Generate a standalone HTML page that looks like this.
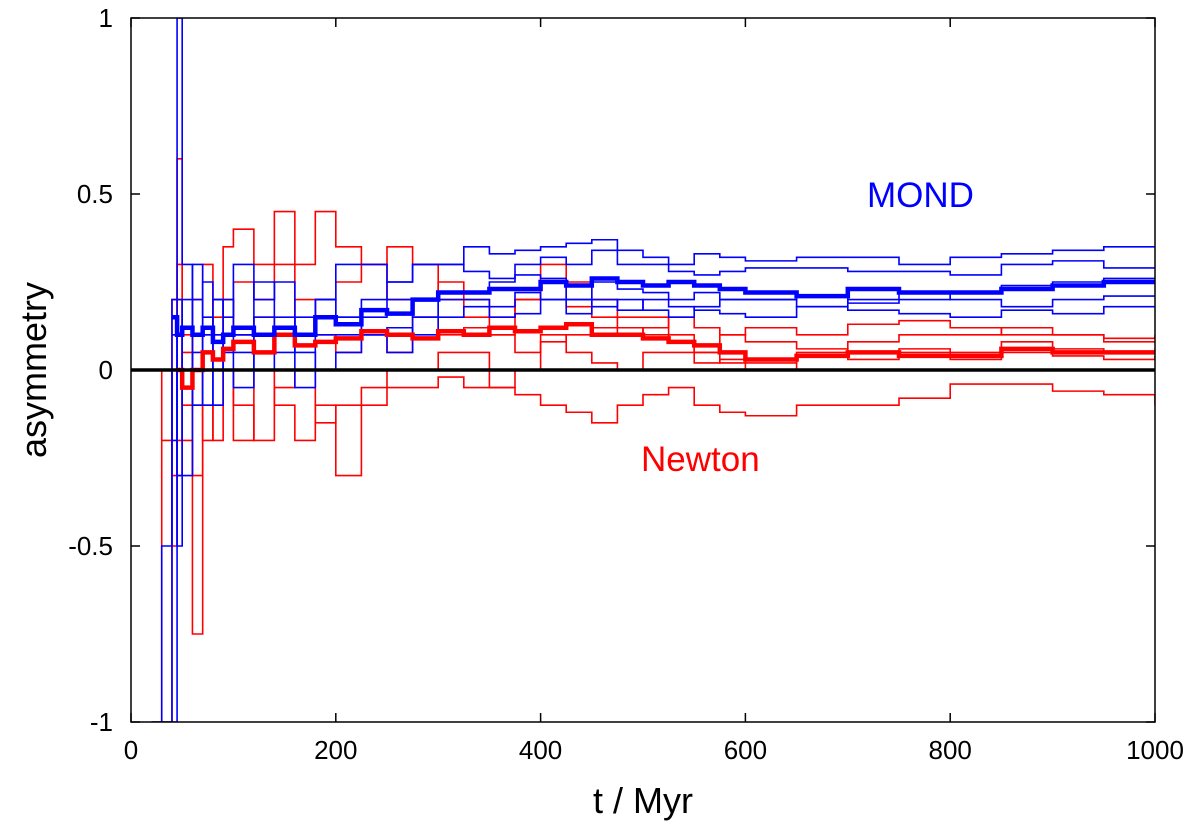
<!DOCTYPE html>
<html><head><meta charset="utf-8"><style>
html,body{margin:0;padding:0;background:#fff;}
svg{display:block;font-family:"Liberation Sans",Arial,sans-serif;}
</style></head><body>
<svg id="chart" width="1200" height="833">
<defs><clipPath id="plotclip"><rect x="131" y="18" width="1024" height="704"/></clipPath></defs>
<g id="series" clip-path="url(#plotclip)"></g>
<g id="axes"></g>
<text x="867" y="207" font-size="35" fill="#0000ff">MOND</text>
<text x="641" y="471" font-size="35" fill="#ff0000">Newton</text>
<text x="643" y="813" font-size="36" text-anchor="middle">t / Myr</text>
<text transform="translate(46,370) rotate(-90)" font-size="36" text-anchor="middle">asymmetry</text>
</svg>
<script>
const times=[20,30,40,45,50,60,70,80,90,100,120,140,160,180,200,225,250,275,300,325,350,375,400,425,450,475,500,525,550,575,600,650,700,750,800,850,900,950,1000];
const mondMean=[null,null,0.15,0.1,0.12,0.1,0.12,0.08,0.1,0.12,0.1,0.12,0.1,0.15,0.13,0.17,0.16,0.2,0.22,0.22,0.23,0.23,0.25,0.24,0.26,0.25,0.24,0.25,0.24,0.23,0.22,0.21,0.23,0.22,0.22,0.23,0.24,0.25,0.25];
const mond1=[-1,-0.5,0.2,1,0.3,0.1,0.25,0.2,0.15,0.3,0.2,0.25,0.1,0.2,0.3,0.3,0.25,0.3,0.3,0.35,0.33,0.34,0.35,0.36,0.37,0.34,0.32,0.3,0.33,0.32,0.31,0.32,0.32,0.3,0.32,0.33,0.34,0.35,0.35];
const mond2=[null,-1,0,-0.3,0.2,0.3,0.15,0,0.2,0.1,0.25,0.15,0.1,0.2,0.15,0.2,0.25,0.3,0.3,0.28,0.26,0.3,0.32,0.3,0.34,0.3,0.3,0.28,0.27,0.28,0.29,0.29,0.28,0.28,0.27,0.3,0.31,0.29,0.29];
const mond3=[null,null,-1,0.2,0,-0.1,0.1,0.2,0,0.05,0.15,0.1,-0.05,0.1,0.1,0.15,0.2,0.15,0.22,0.22,0.25,0.27,0.26,0.2,0.25,0.23,0.22,0.2,0.22,0.2,0.2,0.21,0.19,0.2,0.22,0.24,0.25,0.26,0.26];
const mond4=[null,null,-0.2,0.1,-0.3,0.05,0,-0.1,0.05,0.1,0,0.05,0.15,0.2,0.15,0.1,0.05,0.15,0.2,0.2,0.18,0.22,0.2,0.2,0.18,0.2,0.17,0.15,0.18,0.2,0.2,0.18,0.2,0.22,0.2,0.18,0.2,0.21,0.21];
const mond5=[null,null,0.1,-0.5,0,0.2,-0.1,0.1,0,-0.05,0.05,0.1,0.05,0,0.05,0.1,0.12,0.1,0.15,0.18,0.15,0.16,0.2,0.16,0.2,0.17,0.2,0.18,0.17,0.16,0.15,0.18,0.17,0.16,0.15,0.17,0.16,0.18,0.18];
const newtonMean=[null,null,null,0,-0.05,0,0.05,0.03,0.06,0.08,0.05,0.1,0.07,0.08,0.09,0.11,0.1,0.09,0.11,0.1,0.12,0.11,0.12,0.13,0.1,0.1,0.09,0.08,0.07,0.05,0.03,0.04,0.05,0.04,0.04,0.06,0.05,0.05,0.05];
const newton1=[-1,0,-0.3,0.6,-0.2,-0.75,-0.1,-0.2,0,-0.2,0,-0.1,-0.2,-0.1,-0.3,-0.1,-0.05,-0.05,-0.02,-0.05,-0.05,-0.07,-0.1,-0.12,-0.15,-0.1,-0.07,-0.05,-0.1,-0.12,-0.13,-0.1,-0.1,-0.08,-0.04,-0.04,-0.06,-0.07,-0.1];
const newton2=[null,-1,0.2,0.3,-0.1,0.2,0.3,0.1,0.35,0.4,0.3,0.45,0.3,0.45,0.35,0.3,0.2,0.2,0.25,0.2,0.15,0.2,0.25,0.18,0.15,0.12,0.1,0.08,0.05,0.1,0.12,0.1,0.13,0.14,0.12,0.1,0.1,0.09,0.1];
const newton3=[null,null,-0.5,-0.2,0.1,-0.3,0.1,0.2,0.1,0.25,0.2,0.3,0.1,0.2,0.25,0.3,0.35,0.3,0.2,0.15,0.1,0.2,0.3,0.25,0.2,0.15,0.15,0.1,0.05,0.02,0,0.05,0.08,0.1,0.1,0.12,0.1,0.08,0.08];
const newton4=[null,-0.2,0,-0.3,0.05,0.1,-0.2,-0.1,0,-0.1,-0.2,-0.05,0,-0.15,-0.1,-0.05,0,0,0.05,0.05,-0.05,0,0.1,0.05,0.02,0,0.05,0.05,0.02,0.03,0.02,0.04,0.05,0.06,0.05,0.08,0.06,0.05,0.06];
const newton5=[null,null,0.1,0.2,0,-0.1,0.05,0.15,0.2,0.1,0.15,0.1,0.2,0.1,0.05,0.1,0.05,0.15,0.1,0.12,0.1,0.05,0.08,0.1,0.12,0.1,0.12,0.15,0.12,0.1,0.08,0.06,0.03,0.05,0.03,0.05,0.04,0.03,0.04];
const xTicks=[0,200,400,600,800,1000];
const yTicks=[-1,-0.5,0,0.5,1];
const yTickLabels=["-1","-0.5","0","0.5","1"];

const NS="http://www.w3.org/2000/svg";
const X0=131,X1=1155,Y0=722,Y1=18;
function xs(t){return X0+(t/1000)*(X1-X0);}
function ys(v){return Y0-((v+1)/2)*(Y0-Y1);}
function mk(tag,attrs,parent){const e=document.createElementNS(NS,tag);for(const k in attrs)e.setAttribute(k,attrs[k]);parent.appendChild(e);return e;}
const sg=document.getElementById('series'),ag=document.getElementById('axes');
function drawStep(vals,color,width,name){
  let d="",started=false,prevY=0;
  for(let i=0;i<times.length;i++){
    if(vals[i]===null)continue;
    const x=xs(times[i]),y=ys(vals[i]);
    if(!started){d+="M"+x+","+y;started=true;}
    else d+=" L"+x+","+prevY+" L"+x+","+y;
    prevY=y;
  }
  d+=" L"+xs(1000)+","+prevY;
  const p=mk('path',{d:d,fill:'none',stroke:color,'stroke-width':width,'stroke-linejoin':'miter'},sg);
  
  
}
[newton1,newton2,newton3,newton4,newton5].forEach((s,i)=>drawStep(s,'#ff0000',1.6,'newton-run-'+(i+1)));
[mond1,mond2,mond3,mond4,mond5].forEach((s,i)=>drawStep(s,'#0000ff',1.6,'mond-run-'+(i+1)));
drawStep(newtonMean,'#ff0000',4.5,'newton-mean');
drawStep(mondMean,'#0000ff',4.5,'mond-mean');
const zl=mk('line',{x1:X0,x2:X1,y1:ys(0),y2:ys(0),stroke:'#000','stroke-width':3.5},ag);


const fr=mk('rect',{x:X0,y:Y1,width:X1-X0,height:Y0-Y1,fill:'none',stroke:'#000','stroke-width':1.5},ag);


xTicks.forEach(t=>{
  const x=xs(t);
  mk('line',{x1:x,x2:x,y1:Y0,y2:Y0-9,stroke:'#000','stroke-width':1.5},ag);
  mk('line',{x1:x,x2:x,y1:Y1,y2:Y1+9,stroke:'#000','stroke-width':1.5},ag);
  const tx=mk('text',{x:x,y:759,'font-size':26,'text-anchor':'middle'},ag);
  tx.textContent=t;
  
  
});
yTicks.forEach((v,i)=>{
  const y=ys(v);
  mk('line',{x1:X0,x2:X0+9,y1:y,y2:y,stroke:'#000','stroke-width':1.5},ag);
  mk('line',{x1:X1,x2:X1-9,y1:y,y2:y,stroke:'#000','stroke-width':1.5},ag);
  const tx=mk('text',{x:113,y:y+9,'font-size':26,'text-anchor':'end'},ag);
  tx.textContent=yTickLabels[i];
  
  
});
</script>
</body></html>
